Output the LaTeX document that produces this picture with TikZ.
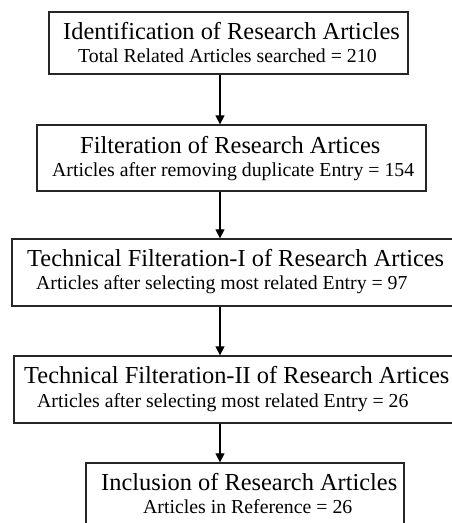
\documentclass[tikz,border=0pt]{standalone}
\usepackage{fontspec}
\setmainfont{Liberation Serif}
\usetikzlibrary{arrows.meta}
\tikzset{
  box/.style={draw=black!85, line width=1.3pt, inner sep=0pt},
  ttl/.style={anchor=base west, inner sep=0pt, font=\fontsize{24.4}{27}\selectfont},
  sub/.style={anchor=base west, inner sep=0pt, font=\fontsize{19.8}{22}\selectfont},
  arr/.style={line width=1.2pt, -{Triangle[length=9pt,width=9pt]}}
}
\begin{document}
\begin{tikzpicture}[x=1pt,y=-1pt]
\useasboundingbox (0,0) rectangle (451,523);
% boxes
\node[box, minimum width=359pt, minimum height=62pt] (b1) at (228.5,43) {};
\node[box, minimum width=389pt, minimum height=66pt] (b2) at (231.5,158) {};
\node[box, minimum width=450pt, minimum height=67pt] (b3) at (237,272.5) {};
\node[box, minimum width=455pt, minimum height=67pt] (b4) at (241.5,389.5) {};
\node[box, minimum width=318pt, minimum height=70pt] (b5) at (245,498) {};
% texts
\node[ttl] (t1) at (63,39) {Identification of Research Articles};
\node[sub] (s1) at (78,62) {Total Related Articles searched = 210};
\node[ttl] (t2) at (80,153) {Filteration of Research Artices};
\node[sub] (s2) at (52,176) {Articles after removing duplicate Entry = 154};
\node[ttl] (t3) at (27,266) {Technical Filteration-I of Research Artices};
\node[sub] (s3) at (36,289) {Articles after selecting most related Entry = 97};
\node[ttl] (t4) at (24,383) {Technical Filteration-II of Research Artices};
\node[sub] (s4) at (37,407) {Articles after selecting most related Entry = 26};
\node[ttl] (t5) at (101,490) {Inclusion of Research Articles};
\node[sub] (s5) at (143,513) {Articles in Reference = 26};
% arrows
\coordinate (ax) at (220,0);
\draw[arr] (b1.south -| ax) -- (b2.north -| ax);
\draw[arr] (b2.south -| ax) -- (b3.north -| ax);
\draw[arr] (b3.south -| ax) -- (b4.north -| ax);
\draw[arr] (b4.south -| ax) -- (b5.north -| ax);
\end{tikzpicture}
\end{document}
